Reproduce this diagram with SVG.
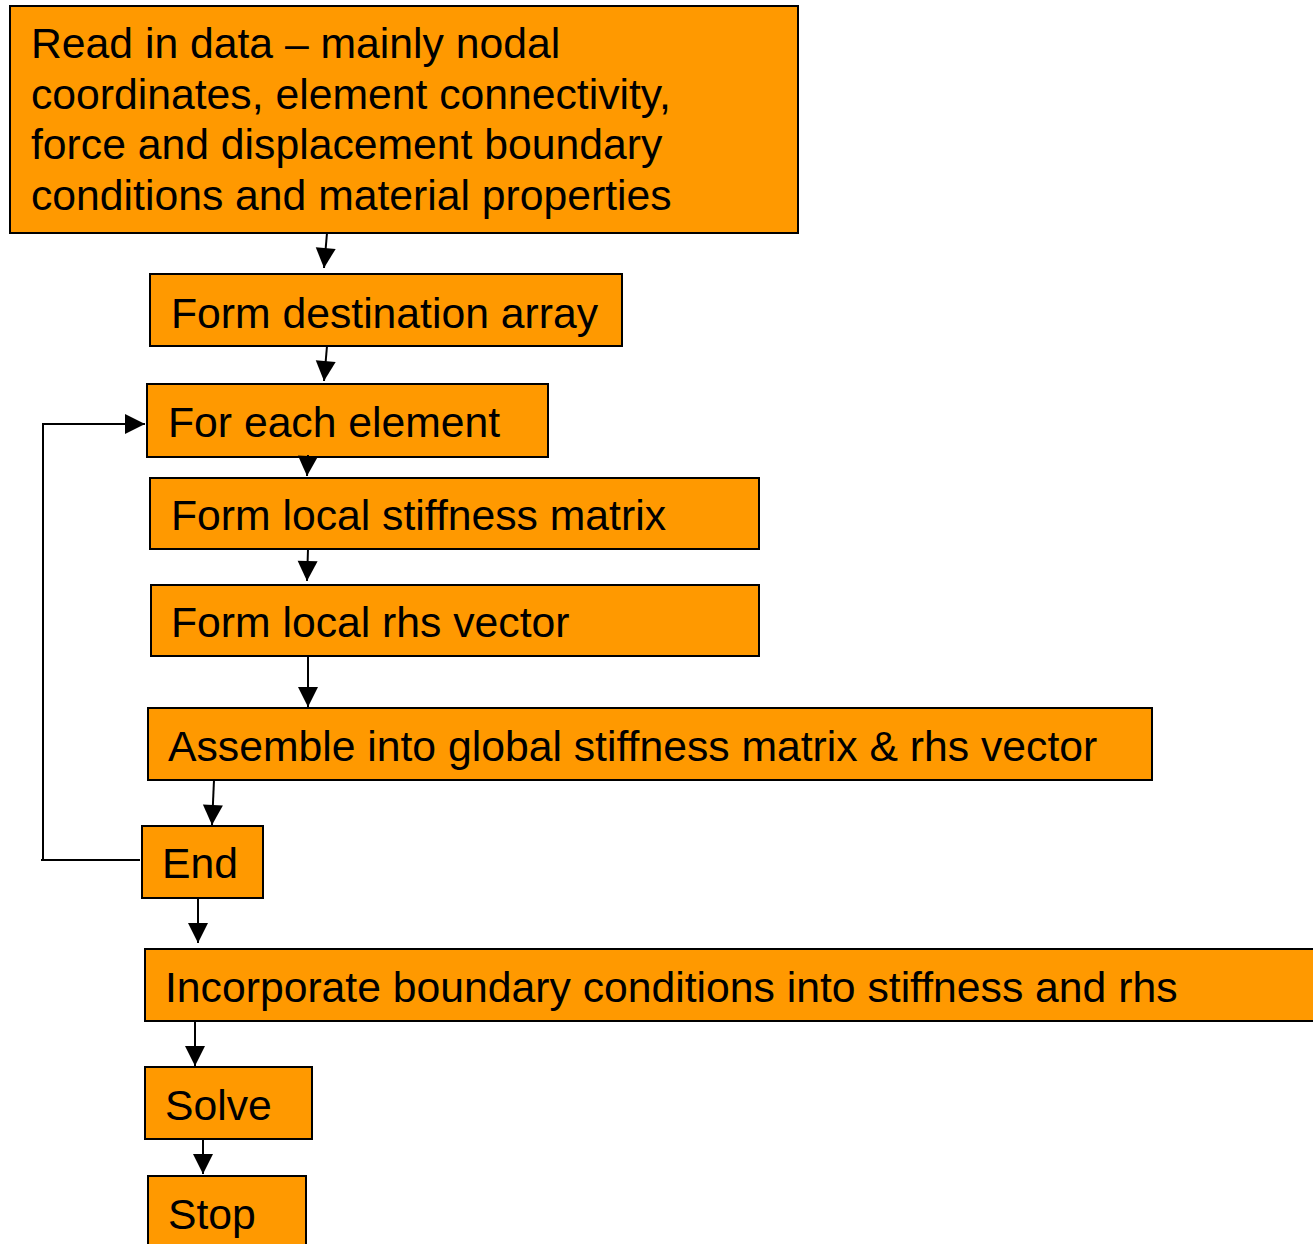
<svg xmlns="http://www.w3.org/2000/svg" width="1313" height="1244" viewBox="0 0 1313 1244">
<defs>
<marker id="ah" markerUnits="userSpaceOnUse" markerWidth="22" markerHeight="22" viewBox="0 0 22 22" refX="21" refY="11" orient="auto">
<path d="M1,1 L21,11 L1,21 Z" fill="#000"/>
</marker>
<style>
.box{fill:#FF9900;stroke:#000;stroke-width:2}
.t{font-family:"Liberation Sans",Arial,sans-serif;font-size:42.7px;fill:#000}
.c{fill:none;stroke:#000;stroke-width:2}
</style>
</defs>
<rect width="1313" height="1244" fill="#fff"/>
<g id="n1"><rect class="box" x="10" y="6" width="788" height="227"/>
<text class="t" x="31" y="58">Read in data – mainly nodal</text>
<text class="t" x="31" y="109">coordinates, element connectivity,</text>
<text class="t" x="31" y="159">force and displacement boundary</text>
<text class="t" x="31" y="210">conditions and material properties</text></g>
<g id="n2"><rect class="box" x="150" y="274" width="472" height="72"/><text class="t" x="171" y="328">Form destination array</text></g>
<g id="n3"><rect class="box" x="147" y="384" width="401" height="73"/><text class="t" x="168" y="437">For each element</text></g>
<g id="n4"><rect class="box" x="150" y="478" width="609" height="71"/><text class="t" x="171" y="530">Form local stiffness matrix</text></g>
<g id="n5"><rect class="box" x="151" y="585" width="608" height="71"/><text class="t" x="171" y="637">Form local rhs vector</text></g>
<g id="n6"><rect class="box" x="148" y="708" width="1004" height="72"/><text class="t" x="168" y="761">Assemble into global stiffness matrix &amp; rhs vector</text></g>
<g id="n7"><rect class="box" x="142" y="826" width="121" height="72"/><text class="t" x="162" y="878">End</text></g>
<g id="n8"><rect class="box" x="145" y="949" width="1172" height="72"/><text class="t" x="165" y="1002">Incorporate boundary conditions into stiffness and rhs</text></g>
<g id="n9"><rect class="box" x="145" y="1067" width="167" height="72"/><text class="t" x="165" y="1120">Solve</text></g>
<g id="n10"><rect class="box" x="148" y="1176" width="158" height="72"/><text class="t" x="168" y="1229">Stop</text></g>
<g id="connectors">
<path class="c" d="M327,233 L324,268" marker-end="url(#ah)"/>
<path class="c" d="M327,346 L324,381" marker-end="url(#ah)"/>
<path class="c" d="M308,455 L307,476" marker-end="url(#ah)"/>
<path class="c" d="M308,549 L307,581" marker-end="url(#ah)"/>
<path class="c" d="M308,656 L308,707" marker-end="url(#ah)"/>
<path class="c" d="M214,780 L212,825" marker-end="url(#ah)"/>
<path class="c" d="M198,898 L198,943" marker-end="url(#ah)"/>
<path class="c" d="M195,1021 L195,1066" marker-end="url(#ah)"/>
<path class="c" d="M203,1139 L203,1174" marker-end="url(#ah)"/>
<path class="c" d="M140,860 L41,860 M43,861 L43,424 L145,424" marker-end="url(#ah)"/>
</g>
</svg>
